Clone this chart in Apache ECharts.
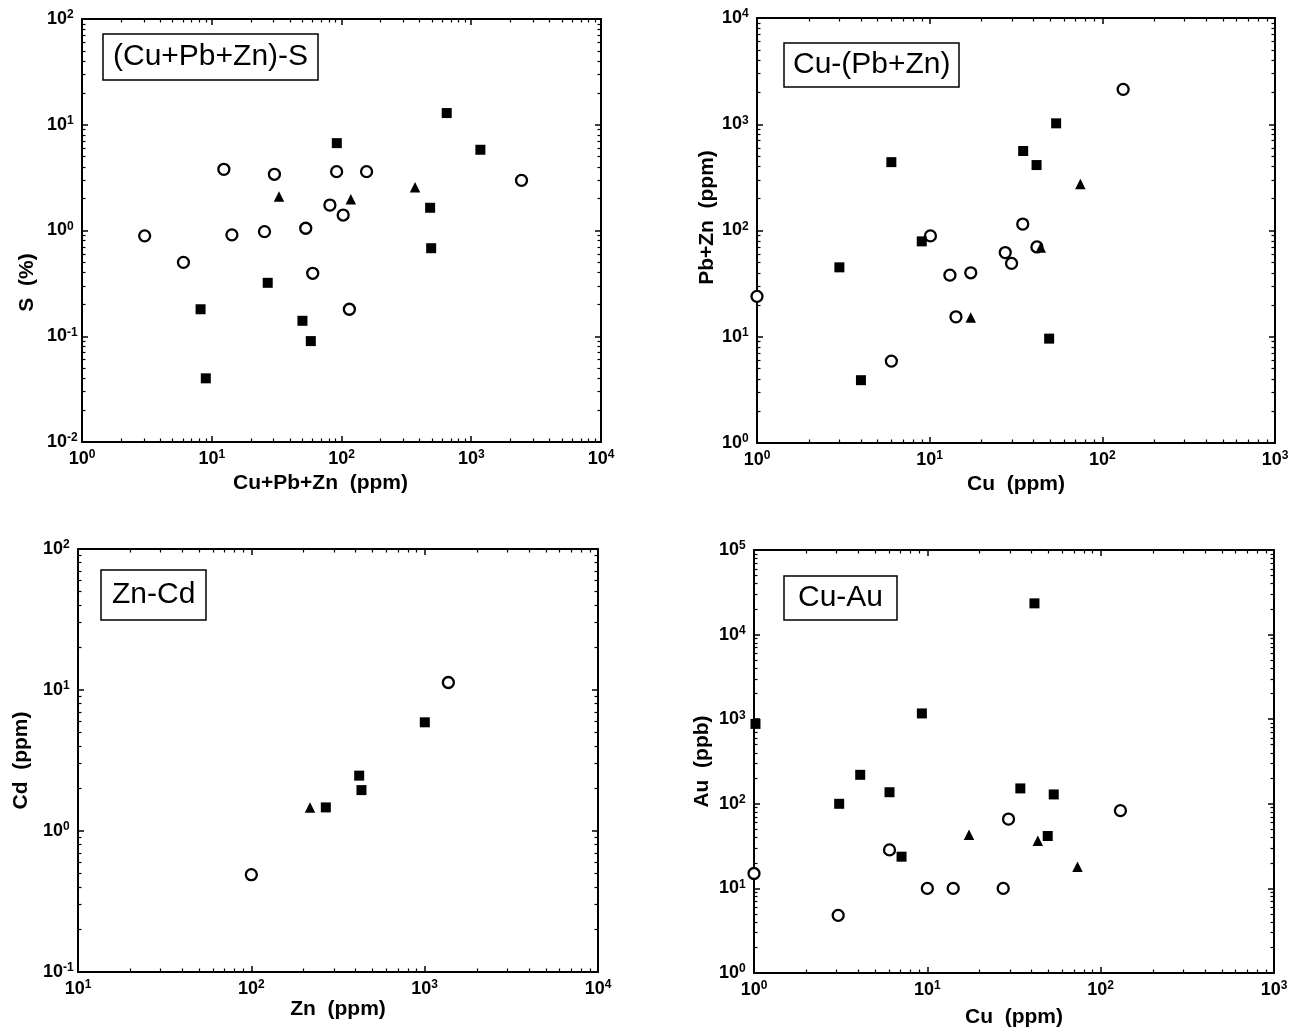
<!DOCTYPE html>
<html>
<head>
<meta charset="utf-8">
<script src="https://cdn.jsdelivr.net/npm/echarts@6/dist/echarts.min.js"></script>
<style>
html,body{margin:0;padding:0;background:#fff;}
#chart{width:1304px;height:1029px;}
</style>
</head>
<body>
<div id="chart"></div>
<script>
// ---------- data ----------
// Panel 1: (Cu+Pb+Zn)-S
const p1Circles = [[3.04,0.89],[6.05,0.50],[12.4,3.79],[14.3,0.91],[25.5,0.975],[30.4,3.40],[53,1.05],[60,0.394],[81.4,1.74],[91.7,3.6],[103,1.40],[115,0.18],[156,3.6],[2440,2.98]];
const p1Squares = [[8.2,0.18],[9.0,0.040],[27,0.32],[50,0.14],[58,0.09],[92,6.7],[482,1.64],[491,0.68],[647,12.9],[1176,5.8]];
const p1Triangles = [[33,2.1],[118,1.97],[369,2.56]];
// Panel 2: Cu-(Pb+Zn)
const p2Circles = [[1.0,24],[6.0,5.9],[10.1,89],[13.1,38],[14.2,15.4],[17.3,40],[27.4,62],[29.8,49],[34.6,115],[41.8,70],[132,2130]];
const p2Squares = [[3.0,45],[4.0,3.9],[6.0,440],[9.0,79],[34.8,560],[41.6,413],[49.2,9.6],[54,1020]];
const p2Triangles = [[17.3,15.2],[44,69],[74.6,274]];
// Panel 3: Zn-Cd
const p3Circles = [[100,0.49],[1370,11.3]];
const p3Squares = [[269,1.47],[419,2.47],[432,1.95],[1002,5.9]];
const p3Triangles = [[218,1.47]];
// Panel 4: Cu-Au
const p4Circles = [[1.0,15],[3.06,4.8],[6.05,28.5],[10,10],[14.1,10],[27.4,10],[29.4,66],[130,83]];
const p4Squares = [[1.02,880],[3.1,100],[4.1,220],[6.05,137],[7.1,23.7],[9.3,1170],[34.4,152],[41.5,23400],[49.5,41.6],[53.6,129]];
const p4Triangles = [[17.4,43],[43.4,36.6],[73.5,18]];

// tick values (decades)
const p1XTicks = [1,10,100,1000,10000];
const p1YTicks = [0.01,0.1,1,10,100];
const p2XTicks = [1,10,100,1000];
const p2YTicks = [1,10,100,1000,10000];
const p3XTicks = [10,100,1000,10000];
const p3YTicks = [0.1,1,10,100];
const p4XTicks = [1,10,100,1000];
const p4YTicks = [1,10,100,1000,10000,100000];

const titles = ['(Cu+Pb+Zn)-S','Cu-(Pb+Zn)','Zn-Cd','Cu-Au'];
const xNames = ['Cu+Pb+Zn  (ppm)','Cu  (ppm)','Zn  (ppm)','Cu  (ppm)'];
const yNames = ['S  (%)','Pb+Zn  (ppm)','Cd  (ppm)','Au  (ppb)'];

// ---------- layout ----------
const FONT = '"Liberation Sans", Arial, Helvetica, sans-serif';
const layouts = [
  {grid:{left:82,top:19,width:519,height:423}, xGap:31, yGap:44, xPad:[0,42,0,0], yPad:[0,104,0,0],
   title:{left:103,top:34,padding:[8,10]}},
  {grid:{left:757,top:18,width:518,height:425}, xGap:31, yGap:37, xPad:[0,0,0,0], yPad:[0,0,0,26],
   title:{left:784,top:43,padding:[7,9]}},
  {grid:{left:78,top:549,width:520,height:423}, xGap:27, yGap:46, xPad:[0,0,0,0], yPad:[0,0,0,0],
   title:{left:101,top:570,padding:[10,11]}},
  {grid:{left:754,top:550,width:520,height:423}, xGap:34, yGap:41, xPad:[0,0,0,0], yPad:[0,0,0,0],
   title:{left:784,top:576,padding:[7,14]}}
];
const panels = [
  {xT:p1XTicks,yT:p1YTicks,c:p1Circles,s:p1Squares,t:p1Triangles},
  {xT:p2XTicks,yT:p2YTicks,c:p2Circles,s:p2Squares,t:p2Triangles},
  {xT:p3XTicks,yT:p3YTicks,c:p3Circles,s:p3Squares,t:p3Triangles},
  {xT:p4XTicks,yT:p4YTicks,c:p4Circles,s:p4Squares,t:p4Triangles}
];

function minors(ticks){
  const out=[];
  for(let i=0;i<ticks.length-1;i++){
    for(let k=2;k<=9;k++) out.push(+(ticks[i]*k).toPrecision(6));
  }
  return out;
}
function supLabel(v){
  const e = Math.round(Math.log10(v));
  return '{b|10}{s|' + e + '}';
}
const rich = {
  b:{fontSize:18,fontWeight:'bold',fontFamily:FONT,color:'#000',lineHeight:20},
  s:{fontSize:12,fontWeight:'bold',fontFamily:FONT,color:'#000',lineHeight:10,verticalAlign:'top'}
};
const nameStyle = (pad)=>({fontSize:21,fontWeight:'bold',fontFamily:FONT,color:'#000',padding:pad});

const xAxis=[], yAxis=[], series=[], grid=[], title=[];
panels.forEach((p,i)=>{
  const L = layouts[i];
  grid.push(Object.assign({outerBoundsMode:'none',containLabel:false}, L.grid));
  title.push({text:titles[i], left:L.title.left, top:L.title.top, padding:L.title.padding,
    borderColor:'#000', borderWidth:1.5, backgroundColor:'#fff',
    textStyle:{fontSize:30,fontWeight:'normal',fontFamily:FONT,color:'#000'}});
  const xmin=p.xT[0], xmax=p.xT[p.xT.length-1], ymin=p.yT[0], ymax=p.yT[p.yT.length-1];
  const common = {type:'log',logBase:10,gridIndex:i,splitLine:{show:false},minorTick:{show:false},minorSplitLine:{show:false}};
  const line = {show:true,onZero:false,lineStyle:{color:'#000',width:2}};
  const majorTick = (vals)=>({show:true,inside:true,length:6,lineStyle:{color:'#000',width:1.5},customValues:vals});
  const minorTick = (vals)=>({show:true,inside:true,length:3.5,lineStyle:{color:'#000',width:1.2},customValues:vals});
  // x axes
  xAxis.push(Object.assign({},common,{min:xmin,max:xmax,position:'bottom',axisLine:line,axisTick:majorTick(p.xT),
    axisLabel:{show:true,customValues:p.xT,formatter:supLabel,rich:rich,margin:7},
    name:xNames[i],nameLocation:'middle',nameGap:L.xGap,nameTextStyle:nameStyle(L.xPad)}));
  xAxis.push(Object.assign({},common,{min:xmin,max:xmax,position:'bottom',axisLine:{show:false},axisTick:minorTick(minors(p.xT)),axisLabel:{show:false}}));
  xAxis.push(Object.assign({},common,{min:xmin,max:xmax,position:'top',axisLine:line,axisTick:majorTick(p.xT),axisLabel:{show:false}}));
  xAxis.push(Object.assign({},common,{min:xmin,max:xmax,position:'top',axisLine:{show:false},axisTick:minorTick(minors(p.xT)),axisLabel:{show:false}}));
  // y axes
  yAxis.push(Object.assign({},common,{min:ymin,max:ymax,position:'left',axisLine:line,axisTick:majorTick(p.yT),
    axisLabel:{show:true,customValues:p.yT,formatter:supLabel,rich:rich,margin:35,align:'left'},
    name:yNames[i],nameLocation:'middle',nameGap:L.yGap,nameRotate:90,nameTextStyle:nameStyle(L.yPad)}));
  yAxis.push(Object.assign({},common,{min:ymin,max:ymax,position:'left',axisLine:{show:false},axisTick:minorTick(minors(p.yT)),axisLabel:{show:false}}));
  yAxis.push(Object.assign({},common,{min:ymin,max:ymax,position:'right',axisLine:line,axisTick:majorTick(p.yT),axisLabel:{show:false}}));
  yAxis.push(Object.assign({},common,{min:ymin,max:ymax,position:'right',axisLine:{show:false},axisTick:minorTick(minors(p.yT)),axisLabel:{show:false}}));
  const ai = i*4;
  series.push({type:'scatter',xAxisIndex:ai,yAxisIndex:ai,data:p.c,symbol:'circle',symbolSize:11,clip:false,
    itemStyle:{color:'#fff',borderColor:'#000',borderWidth:2.3,opacity:1},emphasis:{disabled:true},z:3});
  series.push({type:'scatter',xAxisIndex:ai,yAxisIndex:ai,data:p.s,symbol:'rect',symbolSize:10,clip:false,
    itemStyle:{color:'#000',opacity:1},emphasis:{disabled:true},z:4});
  series.push({type:'scatter',xAxisIndex:ai,yAxisIndex:ai,data:p.t,symbol:'triangle',symbolSize:10.5,clip:false,
    itemStyle:{color:'#000',opacity:1},emphasis:{disabled:true},z:5});
});

const chart = echarts.init(document.getElementById('chart'),null,{renderer:'canvas'});
chart.setOption({
  backgroundColor:'#fff',
  animation:false,
  title:title,
  grid:grid,
  xAxis:xAxis,
  yAxis:yAxis,
  series:series
});
</script>
</body>
</html>
